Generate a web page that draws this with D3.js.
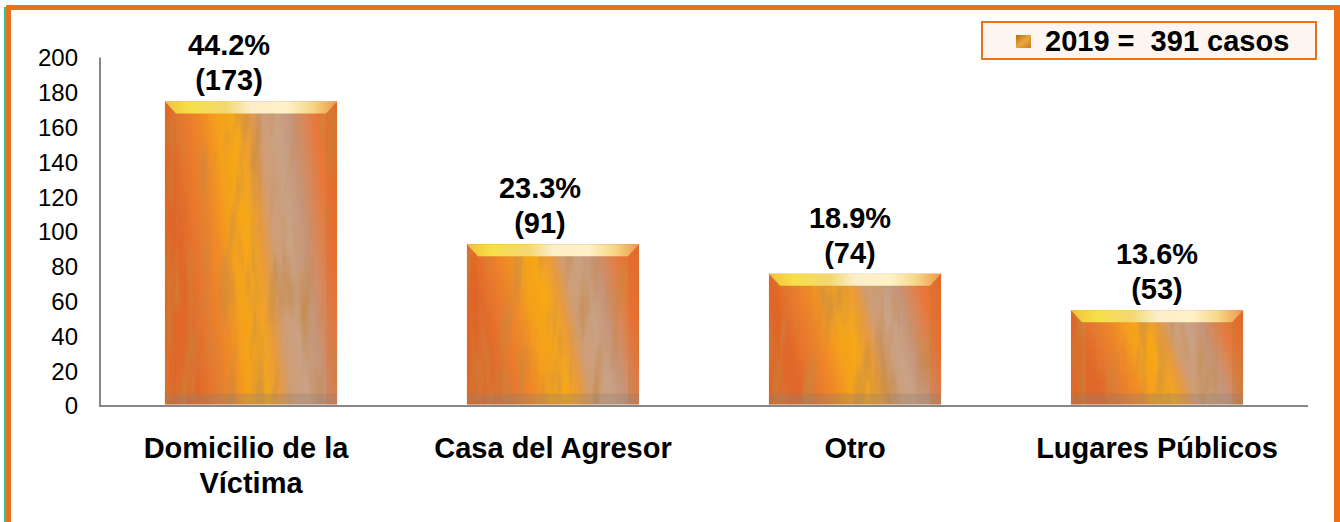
<!DOCTYPE html>
<html>
<head>
<meta charset="utf-8">
<script src="https://cdn.jsdelivr.net/npm/d3@7"></script>
<style>
  html, body { margin: 0; padding: 0; background: #fff; }
  svg { display: block; font-family: "Liberation Sans", Arial, sans-serif; }
</style>
</head>
<body>
<svg id="chart" width="1340" height="522"></svg>
<script>
const categories = ["Domicilio de la Víctima", "Casa del Agresor", "Otro", "Lugares Públicos"];
const categoryLines = [["Domicilio de la", "Víctima"], ["Casa del Agresor"], ["Otro"], ["Lugares Públicos"]];
const values = [173, 91, 74, 53];
const percents = ["44.2%", "23.3%", "18.9%", "13.6%"];
const yTicks = [0, 20, 40, 60, 80, 100, 120, 140, 160, 180, 200];
const legendLabel = "2019 =  391 casos";

// layout-only nudges of the data labels (as placed in the original)
const labelShift = [-22, -13, -5, 0];

const svg = d3.select("#chart");
const W = 1340, H = 522;

// frame
svg.append("rect").attr("x", 0).attr("y", 0).attr("width", W).attr("height", H).attr("fill", "#fff");
svg.append("rect").attr("x", 4).attr("y", 7).attr("width", 2).attr("height", H).attr("fill", "#2fc79b");
svg.append("rect").attr("x", 6).attr("y", 5).attr("width", W - 6).attr("height", 5).attr("fill", "#e8711c");
svg.append("rect").attr("x", 6).attr("y", 5).attr("width", 5).attr("height", H).attr("fill", "#e8711c");
svg.append("rect").attr("x", 1334).attr("y", 5).attr("width", 6).attr("height", H).attr("fill", "#e8711c");

const defs = svg.append("defs");
const grad = defs.append("linearGradient").attr("id", "wood")
  .attr("x1", 0).attr("y1", 0).attr("x2", 1).attr("y2", -0.2);
[
  [0.00, "#e0682a"], [0.10, "#e8782e"], [0.20, "#f08a26"], [0.28, "#f5a01a"],
  [0.38, "#f6a818"], [0.46, "#e69a40"], [0.52, "#cf9d76"], [0.62, "#c9a286"],
  [0.70, "#c69478"], [0.77, "#da8656"], [0.84, "#eb7436"], [1.00, "#e26a2a"]
].forEach(([o, c]) => grad.append("stop").attr("offset", o).attr("stop-color", c));

const bevel = defs.append("linearGradient").attr("id", "bevel")
  .attr("x1", 0).attr("y1", 0).attr("x2", 1).attr("y2", 0);
[
  [0.0, "#f2c23a"], [0.15, "#f6e048"], [0.35, "#f3d770"], [0.5, "#fbeec8"],
  [0.7, "#fff2c8"], [0.85, "#f6d88a"], [1.0, "#ec9a48"]
].forEach(([o, c]) => bevel.append("stop").attr("offset", o).attr("stop-color", c));

const mk = defs.append("linearGradient").attr("id", "marker")
  .attr("x1", 0).attr("y1", 0).attr("x2", 1).attr("y2", 1);
[[0, "#b86a14"], [0.5, "#e8a640"], [1, "#c97d22"]]
  .forEach(([o, c]) => mk.append("stop").attr("offset", o).attr("stop-color", c));

const filt = defs.append("filter").attr("id", "grain")
  .attr("x", 0).attr("y", 0).attr("width", 1).attr("height", 1);
filt.append("feTurbulence").attr("type", "fractalNoise").attr("baseFrequency", "0.08 0.012")
  .attr("numOctaves", 3).attr("seed", 5).attr("result", "noise");
filt.append("feColorMatrix").attr("in", "noise").attr("type", "matrix")
  .attr("values", "0 0 0 0 0.55  0 0 0 0 0.25  0 0 0 0 0.05  1.8 0 0 0 -0.82")
  .attr("result", "tint");
filt.append("feComposite").attr("in", "tint").attr("in2", "SourceGraphic").attr("operator", "atop");

// scales
const x = d3.scaleBand().domain(categories).range([100, 1308]).paddingInner(0.43).paddingOuter(0.215);
const y = d3.scaleLinear().domain([0, 200]).range([405.5, 57.5]);

// axes
const yAxis = d3.axisLeft(y).tickValues(yTicks).tickSize(0).tickPadding(22);
const gy = svg.append("g").attr("transform", "translate(100,0)").call(yAxis);
gy.select(".domain").attr("stroke", "#878787").attr("stroke-width", 2).attr("d", `M0,${y(200)}V${y(0) + 1}`);
gy.selectAll("text").attr("font-size", 24).attr("fill", "#000").attr("dy", "0.35em");

const xAxis = d3.axisBottom(x).tickSize(0).tickFormat("");
const gx = svg.append("g").attr("transform", `translate(0,${y(0) + 0.5})`).call(xAxis);
gx.select(".domain").attr("stroke", "#878787").attr("stroke-width", 2).attr("d", "M99,0H1308");

// bars
const bars = svg.append("g").selectAll("g.bar").data(categories).join("g").attr("class", "bar");
bars.each(function (c, i) {
  const g = d3.select(this);
  const x0 = x(c), bw = x.bandwidth();
  const top = y(values[i]) - 3, bot = y(0) - 1;
  g.append("rect").attr("x", x0).attr("y", top).attr("width", bw).attr("height", bot - top)
    .attr("fill", "url(#wood)").attr("filter", "url(#grain)");
  g.append("rect").attr("x", x0).attr("y", bot - 11).attr("width", bw).attr("height", 11)
    .attr("fill", "#8d7d74").attr("opacity", 0.3);
  g.append("polygon")
    .attr("points", `${x0},${top} ${x0 + bw},${top} ${x0 + bw - 11},${top + 12} ${x0 + 11},${top + 12}`)
    .attr("fill", "url(#bevel)");
  g.append("polygon")
    .attr("points", `${x0},${top} ${x0 + 11},${top + 12} ${x0 + 11},${bot} ${x0},${bot}`)
    .attr("fill", "#d4651e").attr("opacity", 0.15);
  g.append("polygon")
    .attr("points", `${x0 + bw},${top} ${x0 + bw - 11},${top + 12} ${x0 + bw - 11},${bot} ${x0 + bw},${bot}`)
    .attr("fill", "#d0581a").attr("opacity", 0.15);
  const cx = x0 + bw / 2 + labelShift[i];
  g.append("text").attr("x", cx).attr("y", y(values[i]) - 49).attr("text-anchor", "middle")
    .attr("font-size", 29).attr("font-weight", "bold").text(percents[i]);
  g.append("text").attr("x", cx).attr("y", y(values[i]) - 14).attr("text-anchor", "middle")
    .attr("font-size", 29).attr("font-weight", "bold").text("(" + values[i] + ")");
});

// category labels
categories.forEach((c, i) => {
  const cx = x(c) + x.bandwidth() / 2;
  const t = svg.append("text").attr("text-anchor", "middle").attr("font-size", 29).attr("font-weight", "bold");
  categoryLines[i].forEach((ln, k) => {
    t.append("tspan").attr("x", cx - (k === 0 && categoryLines[i].length > 1 ? 5 : 0))
      .attr("y", 458 + k * 35).text(ln);
  });
});

// legend
const lg = svg.append("g");
lg.append("rect").attr("x", 982).attr("y", 22).attr("width", 334).attr("height", 37)
  .attr("fill", "#fdf6f0").attr("stroke", "#e8711c").attr("stroke-width", 2);
lg.append("rect").attr("x", 1016).attr("y", 35).attr("width", 15).attr("height", 13).attr("fill", "url(#marker)");
lg.append("text").attr("x", 1045).attr("y", 51).attr("font-size", 29).attr("font-weight", "bold")
  .style("white-space", "pre").text(legendLabel);
</script>
</body>
</html>
